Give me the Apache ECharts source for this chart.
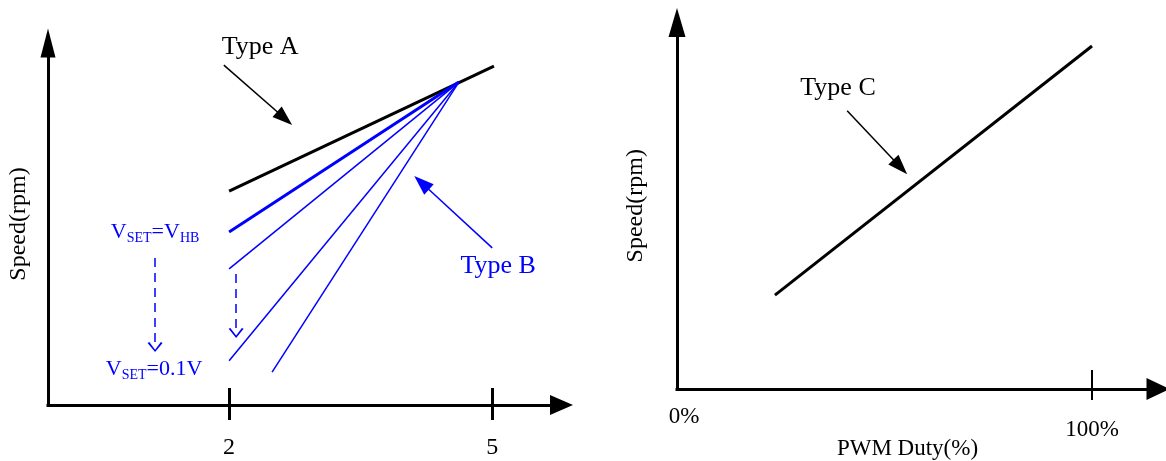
<!DOCTYPE html>
<html>
<head>
<meta charset="utf-8">
<script src="https://cdn.jsdelivr.net/npm/echarts@6/dist/echarts.min.js"></script>
<style>
  html, body { margin: 0; padding: 0; background: #fff; }
  #main { width: 1166px; height: 461px; }
</style>
</head>
<body>
<div id="main"></div>
<script>
// left chart: speed vs Vset (arbitrary units)
var leftTicks = [2, 5];
var typeAX = [2, 5.02];
var typeAY = [59.1, 93.6];
var meetPoint = [4.62, 89.2];          // where all Type B lines end
var typeBStartX = [2, 2, 2, 2.49];
var typeBStartY = [47.8, 37.6, 12.2, 9.1];

// right chart: speed vs PWM duty
var dutyTicks = [100];
var dutyLabels = [0, 100];
var typeCX = [23.6, 100];
var typeCY = [25.6, 93.6];

var serif = '"Times New Roman", "Liberation Serif", serif';
var blue = '#0000ff';

var chart = echarts.init(document.getElementById('main'));

function toPairs(xs, ys) {
    return xs.map(function (x, i) { return [x, ys[i]]; });
}

// annotation arrows, data coords
function solidArrow(from, to, color) {
    return [
        { coord: from, lineStyle: { color: color, width: 1.5, type: 'solid' } },
        { coord: to, symbol: 'triangle', symbolSize: [14, 20] }
    ];
}
function dashArrow(from, to) {
    return [
        { coord: from, lineStyle: { color: blue, width: 1.5, type: [9, 6] } },
        { coord: to, symbol: 'path://M6,0 L12,9 L10.6,9.8 L6,2.4 L1.4,9.8 L0,9 Z', symbolSize: [15, 10] }
    ];
}
function note(coord, text, color, size) {
    return { coord: coord, label: { formatter: text, color: color, fontSize: size } };
}

var markPointBase = {
    symbol: 'circle',
    symbolSize: 1,
    itemStyle: { color: 'rgba(0,0,0,0)' },
    silent: true,
    label: { show: true, position: 'inside', fontFamily: serif },
    data: []
};

var vRich = {
    v: { fontSize: 22, fontFamily: serif, color: blue, verticalAlign: 'bottom', lineHeight: 25 },
    s: { fontSize: 14, fontFamily: serif, color: blue, verticalAlign: 'bottom', lineHeight: 25, padding: [0, 0, -2, 0] }
};

function axisLineStyle(size) {
    return {
        show: true,
        onZero: false,
        symbol: ['none', 'triangle'],
        symbolSize: size,
        lineStyle: { color: '#000', width: 3, cap: 'square' }
    };
}
var labelFont = { fontSize: 24, fontFamily: serif, color: '#000' };

var series = [];

series.push({
    name: 'Type A',
    type: 'line',
    xAxisIndex: 0, yAxisIndex: 0,
    data: toPairs(typeAX, typeAY),
    symbol: 'none',
    lineStyle: { color: '#000', width: 3 },
    markLine: {
        silent: true,
        symbol: ['none', 'triangle'],
        label: { show: false },
        data: [
            solidArrow([1.94, 93.9], [2.633, 79.2], '#000'),
            solidArrow([5.0, 43.4], [4.195, 61.4], blue),
            dashArrow([1.156, 40.6], [1.156, 16.0]),
            dashArrow([2.08, 36.2], [2.08, 19.9])
        ]
    },
    markPoint: Object.assign({}, markPointBase, {
        data: [
            note([2.354, 98.9], 'Type A', '#000', 26),
            note([5.068, 38.4], 'Type B', blue, 26),
            { coord: [1.156, 48.1], label: { formatter: '{v|V}{s|SET}{v|=V}{s|HB}', rich: vRich } },
            { coord: [1.145, 10.2], label: { formatter: '{v|V}{s|SET}{v|=0.1V}', rich: vRich } }
        ]
    })
});

typeBStartX.forEach(function (x, i) {
    series.push({
        name: 'Type B',
        type: 'line',
        xAxisIndex: 0, yAxisIndex: 0,
        data: [[x, typeBStartY[i]], meetPoint],
        symbol: 'none',
        lineStyle: { color: blue, width: i === 0 ? 3 : 1.5 }
    });
});

series.push({
    name: 'Type C',
    type: 'line',
    xAxisIndex: 2, yAxisIndex: 1,
    data: toPairs(typeCX, typeCY),
    symbol: 'none',
    lineStyle: { color: '#000', width: 3 },
    markLine: {
        silent: true,
        symbol: ['none', 'triangle'],
        label: { show: false },
        data: [solidArrow([41.0, 75.9], [53.8, 60.6], '#000')]
    },
    markPoint: Object.assign({}, markPointBase, {
        data: [note([38.8, 82.1], 'Type C', '#000', 26)]
    })
});

var option = {
    animation: false,
    backgroundColor: '#fff',
    grid: [
        { left: 48, top: 43, width: 513.5, height: 362, outerBoundsMode: 'none' },
        { left: 677, top: 22.5, width: 481, height: 366.5, outerBoundsMode: 'none' }
    ],
    xAxis: [
        {
            type: 'value', gridIndex: 0, position: 'bottom',
            min: -0.065, max: 5.79,
            axisLine: Object.assign(axisLineStyle([20, 23]), { onZero: true }),
            axisTick: { show: true, customValues: leftTicks, length: 15, lineStyle: { color: '#000', width: 3 } },
            axisLabel: Object.assign({ show: true, customValues: leftTicks, margin: 31 }, labelFont),
            splitLine: { show: false }
        },
        {
            type: 'value', gridIndex: 0, position: 'bottom',
            min: -0.065, max: 5.79,
            axisLine: { show: false },
            axisTick: { show: true, inside: true, customValues: leftTicks, length: 17, lineStyle: { color: '#000', width: 3 } },
            axisLabel: { show: false },
            splitLine: { show: false }
        },
        {
            type: 'value', gridIndex: 1, position: 'bottom',
            min: 0, max: 115.9,
            axisLine: Object.assign(axisLineStyle([22, 23]), { onZero: true }),
            axisTick: { show: true, customValues: dutyTicks, length: 11, lineStyle: { color: '#000', width: 2 } },
            axisLabel: Object.assign({
                show: true, customValues: [dutyLabels[1]], margin: 29,
                formatter: function (v) { return v + '%'; }
            }, labelFont, { fontSize: 23 }),
            splitLine: { show: false },
            name: 'PWM Duty(%)',
            nameLocation: 'middle',
            nameGap: 48,
            nameMoveOverlap: false,
            nameTextStyle: { fontSize: 23, fontFamily: serif, color: '#000', padding: [0, 20, 0, 0] }
        },
        {
            type: 'value', gridIndex: 1, position: 'bottom',
            min: 0, max: 115.9,
            axisLine: { show: false },
            axisTick: { show: true, inside: true, customValues: dutyTicks, length: 19, lineStyle: { color: '#000', width: 2 } },
            axisLabel: Object.assign({
                show: true, customValues: [dutyLabels[0]], margin: 16,
                padding: [0, 0, 0, 14],
                formatter: function (v) { return v + '%'; }
            }, labelFont, { fontSize: 23 }),
            splitLine: { show: false }
        }
    ],
    yAxis: [
        {
            type: 'value', gridIndex: 0, min: 0, max: 100,
            axisLine: axisLineStyle([15, 29]),
            axisTick: { show: false },
            axisLabel: { show: false },
            splitLine: { show: false },
            name: 'Speed(rpm)',
            nameLocation: 'middle',
            nameGap: 17,
            nameTextStyle: { fontSize: 24, fontFamily: serif, color: '#000' }
        },
        {
            type: 'value', gridIndex: 1, min: 0, max: 100,
            axisLine: axisLineStyle([17, 29]),
            axisTick: { show: false },
            axisLabel: { show: false },
            splitLine: { show: false },
            name: 'Speed(rpm)',
            nameLocation: 'middle',
            nameGap: 29,
            nameTextStyle: { fontSize: 24, fontFamily: serif, color: '#000' }
        }
    ],
    series: series
};

chart.setOption(option);
</script>
</body>
</html>
